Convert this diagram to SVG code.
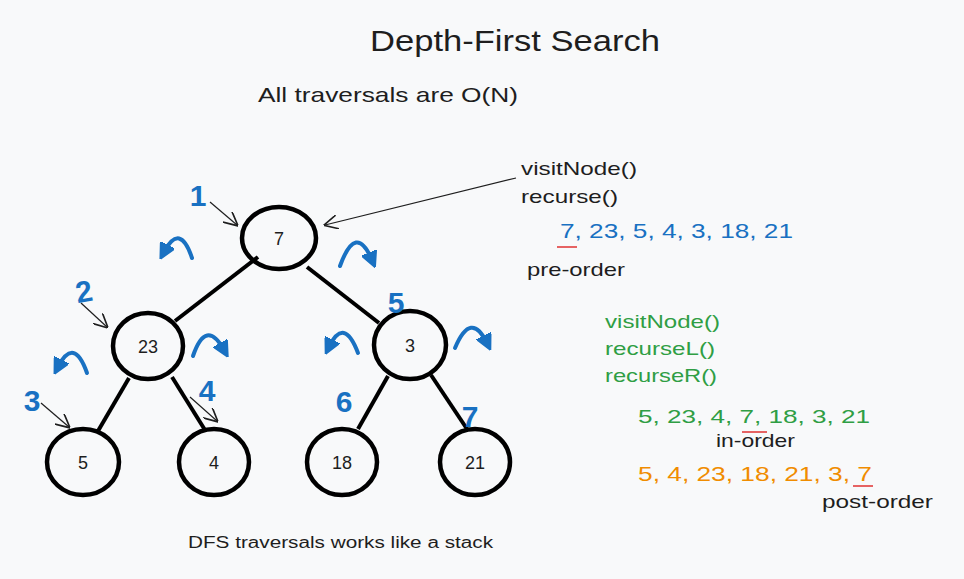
<svg xmlns="http://www.w3.org/2000/svg" width="964" height="579" viewBox="0 0 964 579">
<defs>
<marker id="ah" viewBox="0 0 10 10" refX="9" refY="5" markerWidth="14" markerHeight="14" markerUnits="userSpaceOnUse" orient="auto">
<path d="M0,0 L10,5 L0,10" fill="none" stroke="#1e1e1e" stroke-width="1.2"/>
</marker>
<marker id="bh" viewBox="0 0 10 10" refX="5" refY="5" markerWidth="16" markerHeight="16" markerUnits="userSpaceOnUse" orient="auto">
<path d="M0,0 L10,5 L0,10 Z" fill="#1971c2" stroke="#1971c2" stroke-width="1" stroke-linejoin="round"/>
</marker>
</defs>
<style>
text{font-family:"Liberation Sans","DejaVu Sans",sans-serif;}
.node ellipse{fill:none;stroke:#000;stroke-width:4.5;}
.node text{font-size:18px;fill:#1e1e1e;text-anchor:middle;dominant-baseline:central;}
.edge{stroke:#000;stroke-width:4;fill:none;}
.thin{stroke:#1e1e1e;stroke-width:1.2;fill:none;marker-end:url(#ah);}
.hook{stroke:#1971c2;stroke-width:4;fill:none;stroke-linecap:round;stroke-linejoin:round;marker-end:url(#bh);}
.num{fill:#1971c2;font-size:30px;font-weight:bold;text-anchor:middle;}
.lbl{font-size:19px;fill:#1e1e1e;}
.blue{fill:#1971c2;font-size:21px;}
.green{fill:#2f9e44;font-size:19px;}
.orange{fill:#f08c00;font-size:21px;}
.red{stroke:#e03131;stroke-width:1.5;}
</style>
<rect width="964" height="579" fill="#f8f9fa"/>
<text x="370" y="51" font-size="29" fill="#1e1e1e" textLength="290" lengthAdjust="spacingAndGlyphs">Depth-First Search</text>
<text x="258" y="102" font-size="21" fill="#1e1e1e" textLength="260" lengthAdjust="spacingAndGlyphs">All traversals are O(N)</text>

<g id="connectors">
<line class="edge" x1="258" y1="257" x2="175" y2="321"/>
<line class="edge" x1="307" y1="267" x2="379" y2="323"/>
<line class="edge" x1="129" y1="378" x2="98" y2="431"/>
<line class="edge" x1="172" y1="377" x2="205" y2="430"/>
<line class="edge" x1="388" y1="376" x2="358" y2="429"/>
<line class="edge" x1="431" y1="375" x2="467" y2="429"/>
<line class="thin" x1="210" y1="202" x2="237" y2="225"/>
<line class="thin" x1="516" y1="178" x2="325" y2="225"/>
<line class="thin" x1="81" y1="303" x2="107" y2="327"/>
<line class="thin" x1="41" y1="403" x2="69" y2="427"/>
<line class="thin" x1="190" y1="397" x2="217" y2="421"/>
<path class="hook" d="M192,258 Q180,222 164,252"/>
<path class="hook" d="M340,266 Q356,222 372,260"/>
<path class="hook" d="M87,373 Q74,336 58,367"/>
<path class="hook" d="M193,356 Q206,318 224,350"/>
<path class="hook" d="M358,353 Q344,316 329,347"/>
<path class="hook" d="M455,348 Q471,310 487,343"/>
</g>

<g id="node7" class="node"><ellipse cx="279" cy="238" rx="37" ry="31"/><text x="279" y="239">7</text></g>
<g id="node23" class="node"><ellipse cx="148" cy="346" rx="35" ry="33"/><text x="148" y="347">23</text></g>
<g id="node3" class="node"><ellipse cx="410" cy="345" rx="36" ry="34"/><text x="410" y="346">3</text></g>
<g id="node5" class="node"><ellipse cx="83" cy="462" rx="36" ry="33"/><text x="83" y="463">5</text></g>
<g id="node4" class="node"><ellipse cx="214" cy="462" rx="35" ry="33"/><text x="214" y="463">4</text></g>
<g id="node18" class="node"><ellipse cx="342" cy="462" rx="35" ry="33"/><text x="342" y="463">18</text></g>
<g id="node21" class="node"><ellipse cx="475" cy="462" rx="35" ry="33"/><text x="475" y="463">21</text></g>

<g id="order-numbers">
<text class="num" x="198" y="206">1</text>
<text class="num" x="84" y="302" transform="rotate(-10 84 292)">2</text>
<text class="num" x="32" y="411">3</text>
<text class="num" x="207" y="401">4</text>
<text class="num" x="396" y="313">5</text>
<text class="num" x="344" y="412">6</text>
<text class="num" x="470" y="427">7</text>
</g>

<g id="preorder">
<text class="lbl" x="521" y="175" textLength="116" lengthAdjust="spacingAndGlyphs">visitNode()</text>
<text class="lbl" x="521" y="203" textLength="97" lengthAdjust="spacingAndGlyphs">recurse()</text>
<text class="blue" x="560" y="238" textLength="233" lengthAdjust="spacingAndGlyphs">7, 23, 5, 4, 3, 18, 21</text>
<line class="red" x1="557" y1="247" x2="577" y2="247"/>
<text class="lbl" x="527" y="276" textLength="98" lengthAdjust="spacingAndGlyphs">pre-order</text>
</g>

<g id="inorder">
<text class="green" x="605" y="328" textLength="115" lengthAdjust="spacingAndGlyphs">visitNode()</text>
<text class="green" x="605" y="355" textLength="110" lengthAdjust="spacingAndGlyphs">recurseL()</text>
<text class="green" x="605" y="382" textLength="112" lengthAdjust="spacingAndGlyphs">recurseR()</text>
<text class="green" x="638" y="423" font-size="21" textLength="232" lengthAdjust="spacingAndGlyphs">5, 23, 4, 7, 18, 3, 21</text>
<line class="red" x1="742" y1="432" x2="767" y2="432"/>
<text class="lbl" x="716" y="447" textLength="79" lengthAdjust="spacingAndGlyphs">in-order</text>
</g>

<g id="postorder">
<text class="orange" x="638" y="481" textLength="234" lengthAdjust="spacingAndGlyphs">5, 4, 23, 18, 21, 3, 7</text>
<line class="red" x1="853" y1="486" x2="873" y2="486"/>
<text class="lbl" x="822" y="508" textLength="111" lengthAdjust="spacingAndGlyphs">post-order</text>
</g>

<text x="188" y="548" font-size="16" fill="#1e1e1e" textLength="305" lengthAdjust="spacingAndGlyphs">DFS traversals works like a stack</text>
</svg>
